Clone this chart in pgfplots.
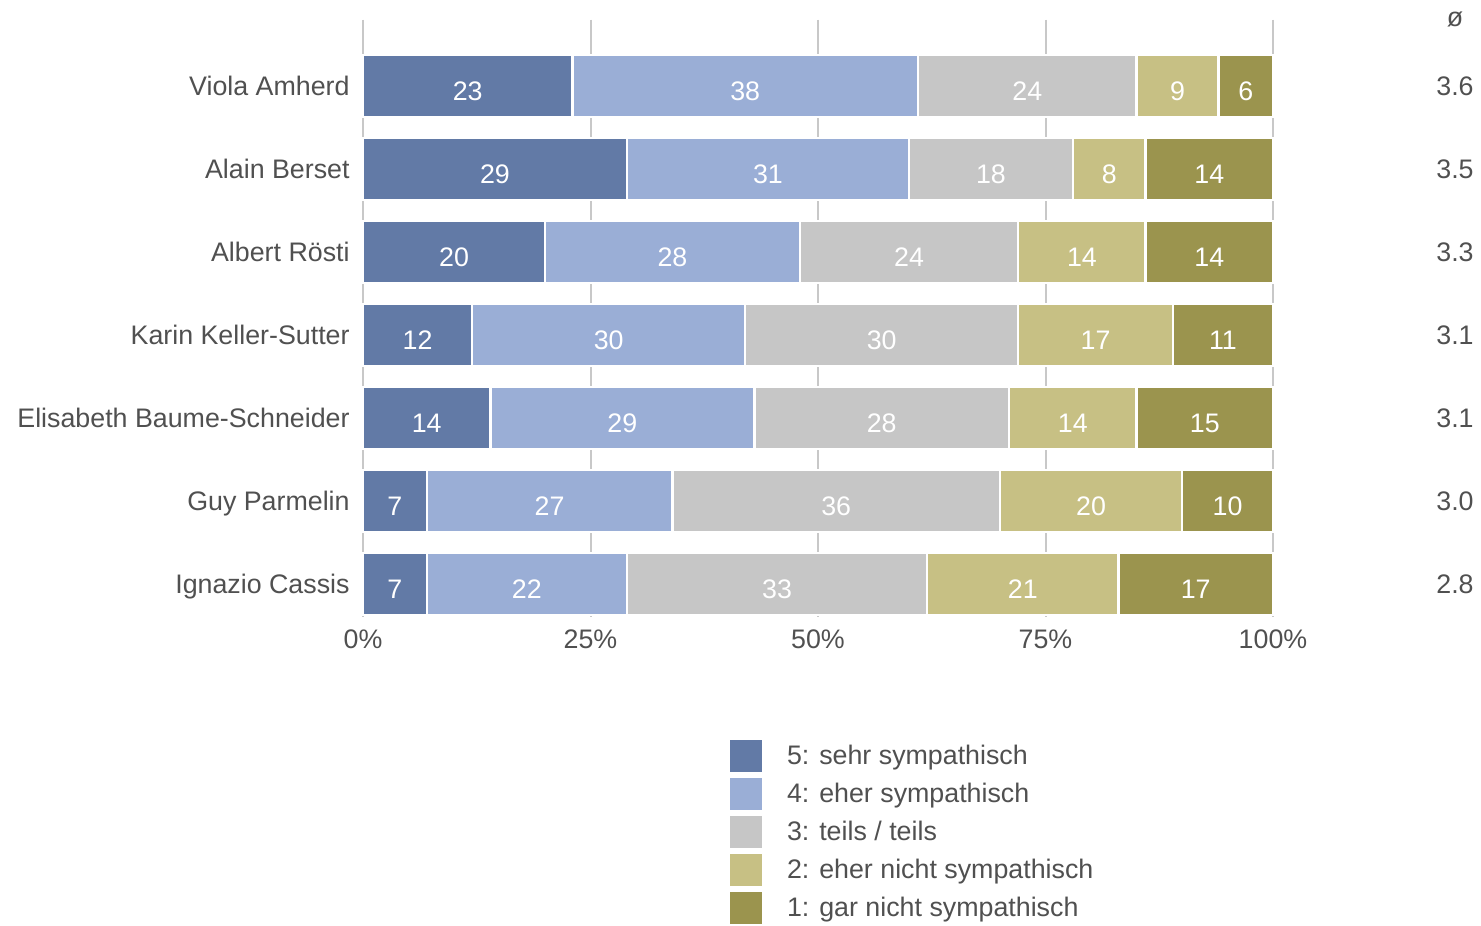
\documentclass[border=0pt]{standalone}
\usepackage{fontspec}
\setmainfont{Liberation Sans}
\usepackage{pgfplots}
\pgfplotsset{compat=1.18}
\definecolor{c5}{HTML}{627AA6}
\definecolor{c4}{HTML}{9AAED6}
\definecolor{c3}{HTML}{C6C6C6}
\definecolor{c2}{HTML}{C7C084}
\definecolor{c1}{HTML}{9B944E}
\definecolor{textgray}{HTML}{505050}
\definecolor{gridgray}{HTML}{C8C8C8}
\newcommand{\fs}{\fontsize{13.4}{16}\selectfont}
\begin{document}
\begin{tikzpicture}
\useasboundingbox (0,0) rectangle (740.5pt,-462.5pt);
\begin{axis}[
  at={(181.5pt,-308.6pt)}, anchor=south west,
  scale only axis, width=455pt, height=298.8pt,
  xbar stacked, bar width=0.75,
  xmin=0, xmax=100, ymin=-0.8, ymax=6.4, y dir=reverse,
  axis line style={draw=none},
  major tick length=0pt,
  xtick={0,25,50,75,100},
  xticklabel={\pgfmathprintnumber{\tick}\%},
  xmajorgrids, major grid style={line width=1pt, color=gridgray},
  ytick={0,1,2,3,4,5,6},
  yticklabels={Viola Amherd, Alain Berset, Albert Rösti, Karin Keller-Sutter, Elisabeth Baume-Schneider, Guy Parmelin, Ignazio Cassis},
  tick label style={font=\fs, text=textgray},
  yticklabel style={anchor=base east, inner sep=0pt, xshift=-6.5pt, yshift=-4.8pt},
  xticklabel style={anchor=north, inner sep=0pt, yshift=-6pt},
  /pgf/number format/assume math mode=true,
  clip=false,
  legend style={at={(0.4033,-0.2055)}, anchor=north west, draw=none, fill=none,
    inner sep=0pt, outer sep=0pt, row sep=3pt, column sep=12.5pt,
    font=\fs, text=textgray, nodes={inner sep=0pt}},
  legend cell align=left,
  legend image code/.code={\fill[#1,draw=none] (0pt,-8pt) rectangle (16pt,8pt);},
]
\addplot[fill=c5, draw=white, line width=1.2pt] coordinates {(23,0) (29,1) (20,2) (12,3) (14,4) (7,5) (7,6)};
\addplot[fill=c4, draw=white, line width=1.2pt] coordinates {(38,0) (31,1) (28,2) (30,3) (29,4) (27,5) (22,6)};
\addplot[fill=c3, draw=white, line width=1.2pt] coordinates {(24,0) (18,1) (24,2) (30,3) (28,4) (36,5) (33,6)};
\addplot[fill=c2, draw=white, line width=1.2pt] coordinates {(9,0) (8,1) (14,2) (17,3) (14,4) (20,5) (21,6)};
\addplot[fill=c1, draw=white, line width=1.2pt] coordinates {(6,0) (14,1) (14,2) (11,3) (15,4) (10,5) (17,6)};
\legend{5: sehr sympathisch, 4: eher sympathisch, 3: teils / teils, 2: eher nicht sympathisch, 1: gar nicht sympathisch}
\end{axis}
\begin{axis}[
  at={(181.5pt,-308.6pt)}, anchor=south west,
  scale only axis, width=455pt, height=298.8pt,
  xmin=0, xmax=100, ymin=-0.8, ymax=6.4, y dir=reverse,
  hide axis, clip=false,
]
% segment labels at segment centres
\addplot[only marks, mark=none, nodes near coords, point meta=explicit symbolic,
  nodes near coords style={font=\fs, text=white, anchor=center, inner sep=0pt, yshift=-2.5pt}]
coordinates {
(11.5,0)[23] (42,0)[38] (73,0)[24] (89.5,0)[9] (97,0)[6]
(14.5,1)[29] (44.5,1)[31] (69,1)[18] (82,1)[8] (93,1)[14]
(10,2)[20] (34,2)[28] (60,2)[24] (79,2)[14] (93,2)[14]
(6,3)[12] (27,3)[30] (57,3)[30] (80.5,3)[17] (94.5,3)[11]
(7,4)[14] (28.5,4)[29] (57,4)[28] (78,4)[14] (92.5,4)[15]
(3.5,5)[7] (20.5,5)[27] (52,5)[36] (80,5)[20] (95,5)[10]
(3.5,6)[7] (18,6)[22] (45.5,6)[33] (72.5,6)[21] (91.5,6)[17]
};
% mean column
\addplot[only marks, mark=none, nodes near coords, point meta=explicit symbolic,
  nodes near coords style={font=\fs, text=textgray, anchor=center}]
coordinates {
(120,-0.8)[ø] (120,0)[3.6] (120,1)[3.5] (120,2)[3.3] (120,3)[3.1] (120,4)[3.1] (120,5)[3.0] (120,6)[2.8]
};
\end{axis}
\end{tikzpicture}
\end{document}
